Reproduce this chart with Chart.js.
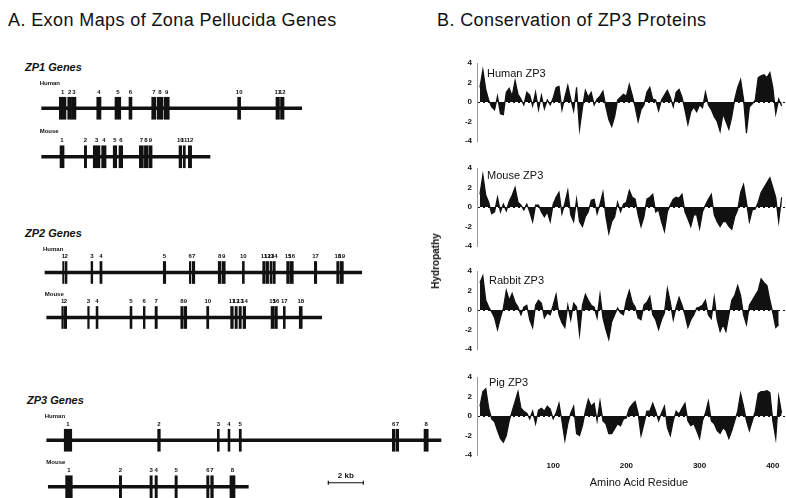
<!DOCTYPE html>
<html><head><meta charset="utf-8">
<script src="https://cdn.jsdelivr.net/npm/chart.js@4/dist/chart.umd.min.js"></script>
<style>
html,body{margin:0;padding:0;background:#fff;width:786px;height:498px;overflow:hidden;font-family:"Liberation Sans",Arial,sans-serif;color:#111}
.abs{position:absolute;white-space:nowrap;line-height:1;transform:translateY(-50%)}
.t{font-size:18px;letter-spacing:0.4px}
.gene{font-size:11px;font-weight:bold;font-style:italic}
.pl{font-size:11px}
canvas{position:absolute;display:block}
</style></head><body>

<div class="abs t" style="left:8px;top:20px">A. Exon Maps of Zona Pellucida Genes</div>
<div class="abs t" style="left:437px;top:20px">B. Conservation of ZP3 Proteins</div>

<div class="abs gene" style="left:25px;top:67px">ZP1 Genes</div>
<div class="abs gene" style="left:25px;top:233px">ZP2 Genes</div>
<div class="abs gene" style="left:27px;top:400px">ZP3 Genes</div>

<canvas id="zp1" width="460" height="113" style="left:0;top:68px"></canvas>
<canvas id="zp2" width="460" height="106" style="left:0;top:234px"></canvas>
<canvas id="zp3" width="460" height="109" style="left:0;top:401px"></canvas>

<canvas id="hHuman" width="346" height="98" style="left:440px;top:53px"></canvas>
<canvas id="hMouse" width="346" height="98" style="left:440px;top:158px"></canvas>
<canvas id="hRabbit" width="346" height="98" style="left:440px;top:261px"></canvas>
<canvas id="hPig" width="346" height="108" style="left:440px;top:367px"></canvas>

<div class="abs pl" style="left:487px;top:73px">Human ZP3</div>
<div class="abs pl" style="left:487px;top:175px">Mouse ZP3</div>
<div class="abs pl" style="left:489px;top:280px">Rabbit ZP3</div>
<div class="abs pl" style="left:489px;top:382px">Pig ZP3</div>
<div class="abs" style="left:436px;top:261px;font-size:10px;font-weight:bold;transform:translate(-50%,-50%) rotate(-90deg)">Hydropathy</div>
<div class="abs" style="left:639px;top:482px;font-size:11px;transform:translate(-50%,-50%)">Amino Acid Residue</div>

<script>
// ---------------- Panel A data (positions in kb) ----------------
const species = ['Human', 'Mouse'];
const zp1HumanSpan = [2.38, 17.24];
const zp1HumanExons = [[3.39,3.77],[3.87,4.09],[4.11,4.34],[5.53,5.77],[6.57,6.90],[7.37,7.54],[8.67,8.91],[8.99,9.30],[9.37,9.67],[13.58,13.75],[15.77,15.97],[16.03,16.23]];
const zp1MouseSpan = [2.38, 12.0];
const zp1MouseExons = [[3.43,3.66],[4.82,4.95],[5.33,5.71],[5.81,6.06],[6.47,6.67],[6.80,7.01],[7.96,8.19],[8.25,8.44],[8.50,8.69],[10.23,10.38],[10.47,10.59],[10.76,10.95]];
const zp2HumanSpan = [2.57, 20.67];
const zp2HumanExons = [[3.58,3.66],[3.73,3.83],[5.20,5.30],[5.71,5.83],[9.33,9.47],[10.82,10.91],[10.99,11.13],[12.47,12.63],[12.70,12.87],[13.85,13.96],[15.01,15.16],[15.22,15.35],[15.43,15.54],[15.60,15.73],[16.38,16.53],[16.57,16.76],[17.96,18.10],[19.24,19.37],[19.43,19.62]];
const zp2MouseSpan = [2.67, 18.38];
const zp2MouseExons = [[3.53,3.62],[3.67,3.81],[5.01,5.10],[5.49,5.60],[7.43,7.54],[8.19,8.29],[8.86,8.99],[10.33,10.47],[10.53,10.67],[11.81,11.93],[13.18,13.33],[13.43,13.56],[13.66,13.79],[13.89,14.04],[15.49,15.66],[15.70,15.85],[16.19,16.30],[17.10,17.27]];
const zp3HumanSpan = [2.67, 25.2];
const zp3HumanExons = [[3.67,4.10],[9.01,9.16],[12.42,12.53],[13.03,13.14],[13.67,13.79],[22.42,22.57],[22.63,22.78],[24.23,24.47]];
const zp3MouseSpan = [2.76, 14.19];
const zp3MouseExons = [[3.75,4.13],[6.82,6.95],[8.57,8.70],[8.86,8.99],[10.00,10.13],[11.81,11.94],[12.04,12.19],[13.14,13.43]];
const scaleBarKb = [18.76, 20.76];

// ---------------- Panel B data (hydropathy, every 4 residues) ----------------
const residueStep = 4;
const humanZP3 = [1.5,3.3,1.3,0.2,-0.5,-0.8,0.6,-1.2,-1.3,1.0, 1.4,0.6,2.2,0.8,0.3,-0.3,1.0,0.7,-0.4,1.0, -0.8,0.7,-0.7,0.2,-0.3,0.4,1.5,1.6,-0.8,0.5, 1.7,0.3,-0.9,1.5,-2.8,-0.6,1.2,0.5,1.0,-0.3, 0.3,0.6,1.1,-0.5,-1.8,-2.5,-1.5,0.2,0.5,0.8, 0.6,1.8,0.7,-0.5,-2.0,-0.8,-0.3,1.0,1.5,0.3, 0.2,-0.9,0.2,0.7,1.2,0.5,-0.5,1.0,1.3,0.5, -0.8,-2.3,-1.0,-0.5,-1.0,-0.3,-0.6,1.0,-0.3,-0.8, -1.5,-2.0,-3.0,-1.2,-2.0,-2.8,-1.5,0.3,1.5,2.3, 0.3,-3.2,-0.5,-0.2,0.2,2.5,2.7,2.8,2.5,3.0, 1.5,-1.2,0.3,-0.4];
const mouseZP3 = [1.3,3.3,1.2,0.5,-0.7,-0.5,1.0,-0.5,0.3,-0.4, 0.6,1.2,2.0,0.5,0.2,-0.3,0.3,-0.5,-1.5,0.2, 0.2,-0.5,-1.0,-0.5,-1.5,0.3,1.0,1.5,-0.7,0.4, 1.7,-0.8,-1.5,0.8,-1.5,-2.0,-1.0,-0.5,0.7,0.8, -0.7,0.3,1.5,-1.0,-2.7,-1.5,-1.0,0.5,-0.5,0.3, 0.5,1.7,1.0,0.8,-0.8,-2.0,-1.0,0.8,1.0,1.3, -0.5,-0.3,-1.5,-2.5,-0.5,0.2,0.8,1.0,0.9,1.3, -0.5,-1.2,-2.0,-0.8,-0.8,-2.2,-0.5,0.2,0.8,1.3, -0.8,-1.5,-2.0,-1.5,-1.5,-2.0,-2.3,-1.0,-0.3,1.5, 2.3,0.5,-1.5,-0.3,-0.2,0.5,1.5,2.0,2.5,3.0, 2.0,1.0,-1.5,1.0];
const rabbitZP3 = [2.8,3.5,1.0,0.3,-0.2,-0.8,-2.0,-0.8,0.2,2.0, 1.0,1.7,0.8,0.3,-0.5,0.3,0.5,-1.0,-1.8,0.5, 1.0,0.7,-0.8,-0.3,-0.5,0.5,1.6,-0.5,-1.3,-1.8, 0.5,-1.0,0.7,0.3,-2.5,0.5,1.6,1.0,0.5,0.3, -0.8,1.6,-0.8,-2.0,-3.0,-1.2,-0.5,0.2,-0.3,-0.5, 1.0,2.0,0.8,0.3,-0.8,-1.0,0.5,0.8,1.4,-0.5, -1.0,-2.0,-1.0,-0.3,2.2,0.8,-1.0,0.3,1.3,0.5, -0.5,-1.8,-1.0,-0.5,0.2,0.3,0.5,1.0,-0.5,-0.9, 1.3,-1.0,-2.2,-1.5,-2.2,-0.5,1.0,1.5,2.5,1.5, -0.5,-1.5,0.5,1.0,1.5,2.0,3.2,2.8,2.5,1.0, -0.3,-1.8,-1.5];
const pigZP3 = [1.0,2.5,2.8,0.8,-0.3,-0.6,-1.5,-2.3,-2.7,-2.0, -0.5,0.5,1.5,2.5,0.8,0.5,0.3,-0.3,0.5,-0.8, 0.6,0.8,0.5,1.0,0.7,-0.3,0.3,1.3,-0.5,-2.5, -0.8,0.3,1.0,-1.8,-2.0,-1.0,0.5,1.7,1.0,1.3, -0.5,1.5,-0.5,-0.8,-1.8,-1.8,-1.3,-0.8,-1.0,-0.3, -0.2,0.8,1.2,1.5,0.3,-2.0,-0.8,0.5,0.5,1.3, 0.5,-0.5,0.3,1.0,-1.2,-2.0,-0.5,0.5,0.2,0.8, 1.3,-0.5,-1.0,-0.8,-1.5,-2.3,-0.5,0.3,1.5,-0.5, -0.8,-1.5,-1.8,-1.2,-1.5,-2.3,-1.5,-0.5,0.5,2.3, 1.0,-0.5,-1.5,-0.5,0.5,2.3,2.5,2.5,2.6,2.4, -0.5,-2.3,2.0,0.3];
const hydroTicks = [-4, -2, 0, 2, 4];
const residueTicks = [100, 200, 300, 400];

// ---------------- rendering ----------------
const FONT = '"Liberation Sans", Arial, sans-serif';
Chart.defaults.font.family = FONT;
const INK = '#111';
const PX_PER_KB = 17.5;

const exonLabelPlugin = {
  id: 'exonLabels',
  afterDatasetsDraw(chart) {
    const ctx = chart.ctx;
    const xs = chart.scales.x, ys = chart.scales.y;
    ctx.save();
    ctx.fillStyle = INK;
    const ds = chart.data.datasets[1];
    const meta = chart.getDatasetMeta(1);
    ctx.font = 'bold 6px ' + FONT;
    ctx.textAlign = 'center';
    ctx.textBaseline = 'middle';
    meta.data.forEach((el, i) => {
      ctx.fillText(String(ds.numbers[i]), (el.x + el.base) / 2, el.y - 16);
    });
    const spans = chart.data.datasets[0].data;
    const half = (ys.getPixelForValue(1) - ys.getPixelForValue(0)) / 2;
    ctx.textAlign = 'left';
    species.forEach((s, i) => {
      ctx.fillText(s, xs.getPixelForValue(spans[i].x[0]) - 2, ys.getPixelForValue(i) - half - 1);
    });
    ctx.restore();
  }
};

const scaleBarPlugin = {
  id: 'scaleBar',
  afterDatasetsDraw(chart) {
    const xs = chart.scales.x, ys = chart.scales.y;
    const ctx = chart.ctx;
    const y = ys.getPixelForValue(1) - 4;
    const x0 = xs.getPixelForValue(scaleBarKb[0]);
    const x1 = xs.getPixelForValue(scaleBarKb[1]);
    ctx.save();
    ctx.strokeStyle = INK;
    ctx.lineWidth = 1.2;
    ctx.beginPath();
    ctx.moveTo(x0, y); ctx.lineTo(x1, y);
    ctx.moveTo(x0, y - 2); ctx.lineTo(x0, y + 2);
    ctx.moveTo(x1, y - 2); ctx.lineTo(x1, y + 2);
    ctx.stroke();
    ctx.fillStyle = INK;
    ctx.font = 'bold 8px ' + FONT;
    ctx.textAlign = 'center';
    ctx.textBaseline = 'middle';
    ctx.fillText((scaleBarKb[1] - scaleBarKb[0]) + ' kb', (x0 + x1) / 2, y - 7);
    ctx.restore();
  }
};

function exonChart(id, hSpan, hExons, mSpan, mExons, extraPlugins) {
  const canvas = document.getElementById(id);
  const exData = [], nums = [];
  hExons.forEach((e, i) => { exData.push({x: e, y: species[0]}); nums.push(i + 1); });
  mExons.forEach((e, i) => { exData.push({x: e, y: species[1]}); nums.push(i + 1); });
  new Chart(canvas, {
    type: 'bar',
    data: {
      labels: species,
      datasets: [
        {data: [{x: hSpan, y: species[0]}, {x: mSpan, y: species[1]}], backgroundColor: INK, barThickness: 3, grouped: false, order: 2},
        {data: exData, numbers: nums, backgroundColor: INK, barThickness: 22, grouped: false, order: 1}
      ]
    },
    options: {
      indexAxis: 'y', responsive: false, animation: false, events: [],
      layout: {padding: {top: 16, left: 0, right: 0, bottom: 0}},
      plugins: {legend: {display: false}, tooltip: {enabled: false}},
      scales: {
        x: {type: 'linear', display: false, min: 0, max: canvas.width / PX_PER_KB},
        y: {type: 'category', display: false}
      }
    },
    plugins: [exonLabelPlugin].concat(extraPlugins || [])
  });
}

exonChart('zp1', zp1HumanSpan, zp1HumanExons, zp1MouseSpan, zp1MouseExons);
exonChart('zp2', zp2HumanSpan, zp2HumanExons, zp2MouseSpan, zp2MouseExons);
exonChart('zp3', zp3HumanSpan, zp3HumanExons, zp3MouseSpan, zp3MouseExons, [scaleBarPlugin]);

function hydroChart(id, values, showX) {
  new Chart(document.getElementById(id), {
    type: 'line',
    data: {datasets: [{
      data: values.map((v, i) => ({x: i * residueStep, y: v})),
      fill: 'origin', backgroundColor: INK, borderColor: INK, borderWidth: 1.2,
      pointRadius: 0, tension: 0
    }]},
    options: {
      responsive: false, animation: false, events: [],
      layout: {padding: {top: 10, bottom: showX ? 0 : 10, left: 0, right: 0}},
      plugins: {legend: {display: false}, tooltip: {enabled: false}},
      scales: {
        x: {
          type: 'linear', min: -4, max: 418, display: showX,
          grid: {display: false, drawTicks: false}, border: {display: false},
          afterBuildTicks: s => { s.ticks = residueTicks.map(v => ({value: v})); },
          afterFit: s => { if (showX) s.height = 20; },
          ticks: {padding: 6, autoSkip: false, maxRotation: 0, color: INK, font: {size: 8, weight: 'bold'}}
        },
        y: {
          min: -4, max: 4,
          afterBuildTicks: s => { s.ticks = hydroTicks.map(v => ({value: v})); },
          afterFit: s => { s.width = 37; },
          grid: {drawTicks: false, lineWidth: 1, color: c => (c.tick && c.tick.value === 0) ? INK : 'rgba(0,0,0,0)'},
          border: {display: true, color: '#9a9a9a', dash: [2, 3]},
          ticks: {padding: 5, color: INK, font: {size: 8, weight: 'bold'}}
        }
      }
    }
  });
}

hydroChart('hHuman', humanZP3, false);
hydroChart('hMouse', mouseZP3, false);
hydroChart('hRabbit', rabbitZP3, false);
hydroChart('hPig', pigZP3, true);
</script>
</body></html>
